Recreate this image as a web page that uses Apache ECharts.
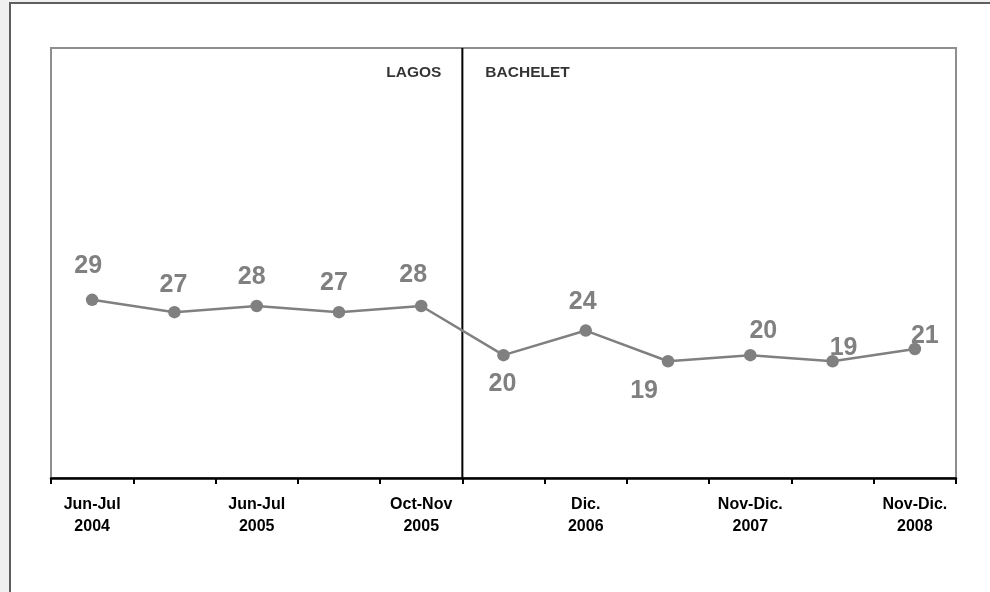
<!DOCTYPE html>
<html>
<head>
<meta charset="utf-8">
<script src="https://cdn.jsdelivr.net/npm/echarts@6/dist/echarts.min.js"></script>
<style>
  html, body { margin: 0; padding: 0; background: #f0f0f0; width: 990px; height: 592px; overflow: hidden; }
  #frame { position: absolute; left: 9px; top: 2px; width: 1100px; height: 700px; background: #ffffff; border-top: 2px solid #5f5f5f; border-left: 2px solid #5f5f5f; }
  #chart { position: absolute; left: 0; top: 0; width: 990px; height: 592px; }
</style>
</head>
<body>
<div id="frame"></div>
<div id="chart"></div>
<script>
// ---- data ----
const categories = ['Jun-Jul\n2004', '', 'Jun-Jul\n2005', '', 'Oct-Nov\n2005', '', 'Dic.\n2006', '', 'Nov-Dic.\n2007', '', 'Nov-Dic.\n2008'];
const values = [29, 27, 28, 27, 28, 20, 24, 19, 20, 19, 21];
const periodNames = ['LAGOS', 'BACHELET'];
const periodBoundary = 5;   // boundary between category 4 and 5 (on a 0..11 scale)
const yMin = 0, yMax = 70;

// ---- style only ----
const labelOffsets = [[-4, -34], [-1, -27], [-5, -29], [-5, -29], [-8, -31], [-1, 29], [-3, -28], [-24, 30], [13, -24], [11, -13], [10, -13]];
const FONT = '"Liberation Sans", Arial, sans-serif';
const GRAY = '#808080';

const chart = echarts.init(document.getElementById('chart'), null, { renderer: 'canvas' });

const lineData = values.map((v, i) => ({
  value: v,
  label: { offset: labelOffsets[i] }
}));

chart.setOption({
  backgroundColor: 'transparent',
  animation: false,
  grid: {
    left: 51, right: 34, top: 48, bottom: 114,
    show: true, borderColor: '#8e8e8e', borderWidth: 2, backgroundColor: 'transparent'
  },
  xAxis: [
    {
      type: 'category',
      data: categories,
      boundaryGap: true,
      axisLine: { show: true, lineStyle: { color: '#000', width: 2.5 } },
      axisTick: { show: true, interval: 0, length: 6, lineStyle: { color: '#000', width: 2 } },
      axisLabel: {
        interval: 0, margin: 16, color: '#000', fontFamily: FONT,
        fontWeight: 'bold', fontSize: 16, lineHeight: 22
      },
      splitLine: { show: false }
    },
    {
      type: 'value', min: 0, max: categories.length, show: false
    }
  ],
  yAxis: {
    type: 'value', min: yMin, max: yMax, show: false,
    splitLine: { show: false }
  },
  series: [
    {
      type: 'line',
      data: [[periodBoundary, yMin], [periodBoundary, yMax]],
      xAxisIndex: 1,
      symbol: 'none',
      lineStyle: { color: '#000', width: 2 },
      silent: true,
      z: 3
    },
    {
      type: 'scatter',
      xAxisIndex: 1,
      symbolSize: 0,
      data: [
        { value: [periodBoundary, 66], label: { position: 'left', distance: 21, formatter: periodNames[0], color: '#000' } },
        { value: [periodBoundary, 66], label: { position: 'right', distance: 23, formatter: periodNames[1], color: '#000' } }
      ],
      label: { show: true, color: '#000', fontFamily: FONT, fontWeight: 'bold', fontSize: 15.5 },
      silent: true
    },
    {
      type: 'line',
      data: lineData,
      symbol: 'circle',
      symbolSize: 12.5,
      itemStyle: { color: GRAY },
      lineStyle: { color: GRAY, width: 2.5 },
      label: {
        show: true, position: 'inside', color: GRAY, fontFamily: FONT,
        fontWeight: 'bold', fontSize: 25
      },
      z: 4
    }
  ]
});
</script>
</body>
</html>
